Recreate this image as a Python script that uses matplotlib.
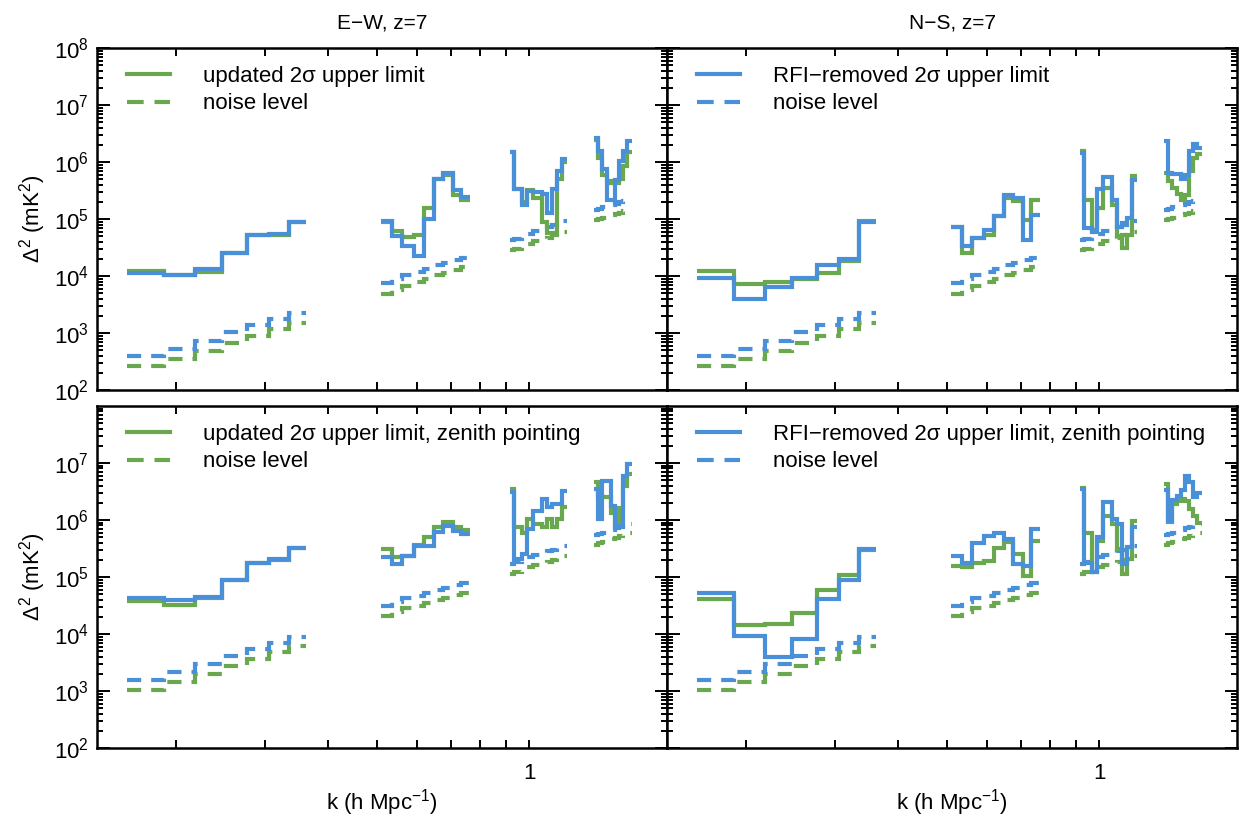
import math
import matplotlib
matplotlib.use("Agg")
import matplotlib.pyplot as plt
from matplotlib.lines import Line2D
from matplotlib.ticker import LogLocator, FixedLocator, NullFormatter, FuncFormatter

plt.rcParams['font.family'] = ['Liberation Sans', 'DejaVu Sans']
plt.rcParams['mathtext.fontset'] = 'custom'
plt.rcParams['mathtext.rm'] = 'Liberation Sans'
plt.rcParams['mathtext.it'] = 'Liberation Sans:italic'
plt.rcParams['mathtext.default'] = 'regular'

GREEN = '#6aa84f'
BLUE = '#4a90d9'

# k-bin edges of the four groups of bins (h/Mpc)
edges_1 = [0.160, 0.189, 0.218, 0.246, 0.276, 0.305, 0.334, 0.361]
edges_2 = [0.508, 0.534, 0.561, 0.590, 0.619, 0.648, 0.676, 0.705, 0.732, 0.763]
edges_3 = [0.916, 0.933, 0.966, 0.988, 1.018, 1.058, 1.082, 1.107, 1.133, 1.159, 1.189]
edges_4 = [1.343, 1.370, 1.395, 1.423, 1.449, 1.478, 1.507, 1.535, 1.563, 1.595]
edge_sets = [edges_1, edges_2, edges_3, edges_4]

# noise levels (mK^2), same for E-W and N-S
noise_green = [[259, 349, 483, 668, 900, 1180, 1506],
               [4900, 5800, 6700, 7800, 9000, 10300, 11500, 12800, 14300],
               [28500, 30000, 33000, 37000, 40500, 43000, 47000, 52000, 56000, 60000],
               [95000, 100000, 105000, 110000, 117000, 123000, 130000, 137000, 145000]]
noise_blue = [[388, 531, 734, 1030, 1368, 1770, 2260],
              [7400, 8800, 10400, 11700, 13500, 15500, 17000, 19000, 21000],
              [43000, 45000, 50000, 55000, 61000, 65000, 72000, 80000, 86000, 92000],
              [145000, 152000, 160000, 168000, 176000, 185000, 195000, 205000, 215000]]

# zenith pointing noise levels
zen_noise_green = [[1055, 1420, 1990, 2710, 3640, 4760, 6080],
                   [20700, 24000, 28000, 31000, 35000, 39000, 43000, 48000, 53000],
                   [115000, 120000, 135000, 148000, 160000, 172000, 185000, 200000, 220000, 235000],
                   [370000, 390000, 410000, 440000, 460000, 490000, 520000, 550000, 580000]]
zen_noise_blue = [[1580, 2120, 2980, 4060, 5450, 6950, 8980],
                  [31000, 36000, 42000, 47000, 53000, 58000, 65000, 72000, 80000],
                  [170000, 180000, 200000, 220000, 240000, 260000, 280000, 300000, 330000, 350000],
                  [540000, 570000, 600000, 630000, 670000, 710000, 760000, 800000, 850000]]

# 2 sigma upper limits, E-W
ew_green = [[12300, 10280, 12000, 25800, 52800, 53000, 89800],
            [88000, 60700, 47500, 53000, 157000, 494000, 600000, 269000, 220000],
            [1.5e6, 3.3e5, 2.0e5, 3.2e5, 2.3e5, 9.0e4, 5.7e4, 5.6e4, 5.0e5, 1.0e6],
            [2.4e6, 1.2e6, 6.0e5, 4.6e5, 4.3e5, 4.3e5, 5.0e5, 8.5e5, 1.5e6]]
ew_blue = [[11480, 10280, 13100, 25800, 52800, 53700, 89800],
           [91000, 49500, 33000, 22600, 100000, 508000, 649000, 321000, 245000],
           [1.52e6, 3.3e5, 1.79e5, 3.08e5, 2.95e5, 2.8e5, 1.28e5, 3.3e5, 6.9e5, 1.15e6],
           [2.61e6, 1.56e6, 7.6e5, 2.2e5, 2.2e5, 4.9e5, 1.04e6, 1.56e6, 2.34e6]]

# 2 sigma upper limits, N-S
ns_green = [[12300, 7330, 7950, 8740, 11500, 18400, 91000],
            [72400, 25200, 46300, 53000, 112000, 235000, 205000, 97500, 214000],
            [1.56e6, 2.2e5, 6.5e4, 1.57e5, 3.5e5, 1.79e5, 4.95e4, 3.08e4, 5.3e4, 5.7e5],
            [6.5e5, 4.6e5, 3.5e5, 2.8e5, 2.2e5, 2.6e5, 7.0e5, 1.2e6, 1.4e6]]
ns_blue = [[9350, 3990, 6410, 9350, 15400, 20200, 87300],
           [72400, 33000, 46300, 64900, 112000, 269000, 235000, 42100, 119000],
           [1.46e6, 6.95e4, 5.82e4, 3.3e5, 5.5e5, 2.2e5, 7.24e4, 8.52e4, 1.04e5, 4.8e5],
           [2.34e6, 6.5e5, 6.1e5, 6.1e5, 5.0e5, 6.0e5, 1.56e6, 2.05e6, 1.79e6]]

# zenith pointing, E-W
zew_green = [[37400, 32700, 43000, 87400, 1.76e5, 2.0e5, 3.23e5],
             [3.08e5, 2.2e5, 2.35e5, 3.6e5, 4.94e5, 7.4e5, 9.3e5, 7.4e5, 6.7e5],
             [3.5e6, 7.4e5, 6.0e5, 1.04e6, 8.5e5, 7.4e5, 1.04e6, 7.4e5, 1.04e6, 1.66e6],
             [4.6e6, 2.6e6, 2.5e6, 2.5e6, 1.3e6, 9.0e5, 1.6e6, 4.0e6, 6.5e6]]
zew_blue = [[42900, 39000, 44600, 87400, 1.76e5, 2.07e5, 3.23e5],
            [2.2e5, 1.68e5, 2.35e5, 3.52e5, 3.43e5, 6.04e5, 7.7e5, 6.46e5, 5.65e5],
            [3.05e6, 2.06e5, 2.52e5, 6.9e5, 1.45e6, 2.33e6, 1.66e6, 1.9e6, 1.9e6, 3.26e6],
            [3.5e6, 1.04e6, 4.9e6, 4.9e6, 1.78e6, 7.4e5, 7.9e5, 6.0e6, 9.6e6]]

# zenith pointing, N-S
zns_green = [[41700, 14600, 15200, 23400, 60000, 1.07e5, 3.0e5],
             [1.57e5, 1.47e5, 1.75e5, 1.92e5, 3.16e5, 4.14e5, 2.5e5, 1.05e5, 4.3e5],
             [3.7e6, 6.0e5, 1.2e5, 4.3e5, 1.16e6, 8.5e5, 3.1e5, 1.12e5, 2.05e5, 9.7e5],
             [4.27e6, 9.06e5, 1.9e6, 2.18e6, 2.33e6, 2.18e6, 1.56e6, 1.19e6, 9.0e5]]
zns_blue = [[52400, 9100, 3950, 8170, 41100, 89800, 3.1e5],
            [2.29e5, 1.75e5, 3.93e5, 5.28e5, 5.81e5, 4.6e5, 1.68e5, 1.57e5, 6.9e5],
            [3.5e6, 1.75e5, 1.2e5, 4.94e5, 2.09e6, 1.04e6, 8.5e5, 1.68e5, 3.3e5, 7.4e5],
            [3.3e6, 9.5e5, 2.2e6, 2.6e6, 3.3e6, 6.0e6, 4.6e6, 2.5e6, 3.0e6]]

LW = 3.0
DASH = (0, (3.4, 2.4))


def pow_label(v, pos):
    return r'$10^{%d}$' % round(math.log10(v))


def draw_panel(ax, lim_g, lim_b, n_g, n_b, leg_color, leg_text, y_major):
    for edges, ng, nb, lg, lb in zip(edge_sets, n_g, n_b, lim_g, lim_b):
        ax.stairs(ng, edges, baseline=None, color=GREEN, lw=LW, linestyle=DASH)
        ax.stairs(nb, edges, baseline=None, color=BLUE, lw=LW, linestyle=DASH)
        ax.stairs(lg, edges, baseline=None, color=GREEN, lw=LW)
        ax.stairs(lb, edges, baseline=None, color=BLUE, lw=LW)

    ax.set_xscale('log')
    ax.set_yscale('log')
    ax.set_xlim(0.1395, 1.873)
    ax.set_ylim(1e2, 1e8)
    ax.yaxis.set_major_locator(FixedLocator(y_major))
    ax.yaxis.set_minor_locator(LogLocator(base=10, subs=range(2, 10), numticks=20))
    ax.xaxis.set_major_locator(LogLocator(base=10, numticks=20))
    ax.xaxis.set_minor_locator(LogLocator(base=10, subs=range(2, 10), numticks=20))
    ax.xaxis.set_minor_formatter(NullFormatter())
    ax.yaxis.set_minor_formatter(NullFormatter())
    ax.xaxis.set_major_formatter(FuncFormatter(lambda v, p: '%g' % v))
    ax.yaxis.set_major_formatter(FuncFormatter(pow_label))

    ax.tick_params(which='both', direction='in', top=True, right=True,
                   width=1.4, labelsize=16)
    ax.tick_params(axis='y', which='major', length=9, pad=6)
    ax.tick_params(axis='y', which='minor', length=4.5)
    ax.tick_params(axis='x', which='major', length=6, pad=11)
    ax.tick_params(axis='x', which='minor', length=5.5)
    for s in ax.spines.values():
        s.set_linewidth(1.8)

    handles = [Line2D([], [], color=leg_color, lw=LW),
               Line2D([], [], color=leg_color, lw=LW, linestyle=(0, (4.0, 2.6)))]
    ax.legend(handles, [leg_text, 'noise level'], loc='upper left',
              bbox_to_anchor=(0.052, 0.948), frameon=False, fontsize=16,
              handlelength=1.95, handletextpad=1.5, labelspacing=0.3,
              borderaxespad=0, borderpad=0)


fig = plt.figure(figsize=(12.44, 8.18), dpi=100)
L1, L2, W = 0.078, 0.5362, 0.4582
B_top, B_bot, H = 0.5232, 0.0856, 0.4181

ax_tl = fig.add_axes([L1, B_top, W, H])
ax_tr = fig.add_axes([L2, B_top, W, H])
ax_bl = fig.add_axes([L1, B_bot, W, H])
ax_br = fig.add_axes([L2, B_bot, W, H])

top_major = [1e2, 1e3, 1e4, 1e5, 1e6, 1e7, 1e8]
bot_major = [1e2, 1e3, 1e4, 1e5, 1e6, 1e7]

draw_panel(ax_tl, ew_green, ew_blue, noise_green, noise_blue, GREEN,
           'updated 2σ upper limit', top_major)
draw_panel(ax_tr, ns_green, ns_blue, noise_green, noise_blue, BLUE,
           'RFI\u2212removed 2σ upper limit', top_major)
draw_panel(ax_bl, zew_green, zew_blue, zen_noise_green, zen_noise_blue, GREEN,
           'updated 2σ upper limit, zenith pointing', bot_major)
draw_panel(ax_br, zns_green, zns_blue, zen_noise_green, zen_noise_blue, BLUE,
           'RFI\u2212removed 2σ upper limit, zenith pointing', bot_major)

# labels only where the reference shows them
for ax in (ax_tl, ax_tr):
    ax.tick_params(axis='x', labelbottom=False)
for ax in (ax_tr, ax_br):
    ax.tick_params(axis='y', labelleft=False)

ax_tl.set_title('E\u2212W, z=7', fontsize=15, pad=14)
ax_tr.set_title('N\u2212S, z=7', fontsize=15, pad=14)
for ax in (ax_tl, ax_bl):
    ax.set_ylabel(r'$\Delta^2$ (mK$^2$)', fontsize=16, labelpad=4)
for ax in (ax_bl, ax_br):
    ax.set_xlabel(r'k (h Mpc$^{-1}$)', fontsize=16, labelpad=2)

fig.savefig('out.png', dpi=100)
